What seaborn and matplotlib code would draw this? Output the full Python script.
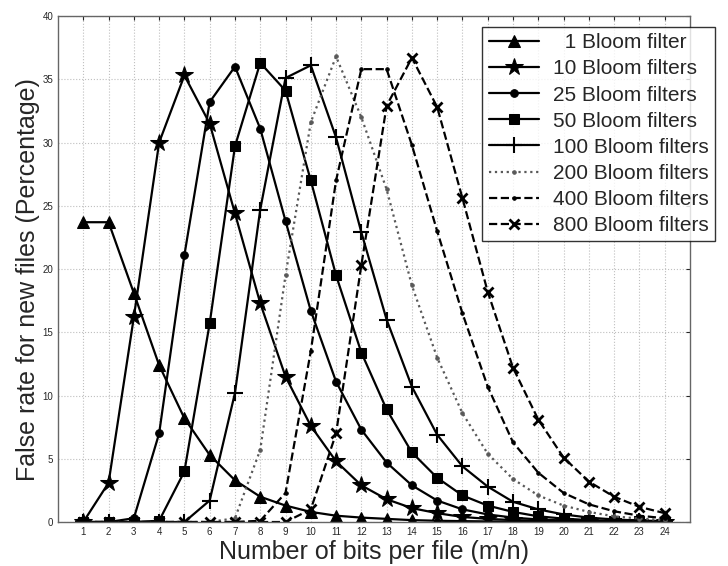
import matplotlib
matplotlib.use("Agg")
import matplotlib.pyplot as plt
import seaborn as sns

# bits per file (m/n)
bits = list(range(1, 25))

# false rate (%) for each number of Bloom filters
bf_1 = [23.7, 23.7, 18.1, 12.4, 8.2, 5.3, 3.3, 2.0, 1.3, 0.8, 0.5, 0.35,
        0.25, 0.15, 0.1, 0.07, 0.05, 0.03, 0.02, 0.01, 0.01, 0, 0, 0]
bf_10 = [0, 3.1, 16.2, 30.0, 35.3, 31.5, 24.4, 17.3, 11.5, 7.6, 4.8, 2.9,
         1.8, 1.1, 0.7, 0.4, 0.25, 0.15, 0.1, 0.05, 0.03, 0.02, 0.01, 0]
bf_25 = [0, 0, 0.3, 7.0, 21.1, 33.2, 36.0, 31.1, 23.8, 16.7, 11.1, 7.3,
         4.7, 2.9, 1.7, 1.0, 0.6, 0.35, 0.2, 0.12, 0.07, 0.04, 0.02, 0.01]
bf_50 = [0, 0, 0, 0.1, 4.0, 15.7, 29.7, 36.3, 34.1, 27.0, 19.5, 13.4,
         8.9, 5.5, 3.5, 2.1, 1.3, 0.8, 0.45, 0.27, 0.15, 0.09, 0.05, 0.03]
bf_100 = [0, 0, 0, 0, 0, 1.7, 10.2, 24.7, 35.1, 36.1, 30.4, 22.9,
          16.0, 10.7, 6.9, 4.4, 2.8, 1.6, 1.0, 0.6, 0.35, 0.2, 0.12, 0.07]
bf_200 = [0, 0, 0, 0, 0, 0, 0.3, 5.7, 19.5, 31.6, 36.8, 32.0,
          26.3, 18.7, 13.0, 8.6, 5.4, 3.4, 2.1, 1.3, 0.8, 0.45, 0.27, 0.15]
bf_400 = [0, 0, 0, 0, 0, 0, 0, 0.1, 2.3, 13.5, 27.0, 35.8,
          35.8, 29.8, 23.0, 16.5, 10.7, 6.3, 3.9, 2.3, 1.4, 0.85, 0.5, 0.3]
bf_800 = [0, 0, 0, 0, 0, 0, 0, 0, 0, 1.0, 7.0, 20.3,
          32.9, 36.7, 32.8, 25.6, 18.2, 12.2, 8.1, 5.1, 3.2, 2.0, 1.2, 0.7]

labels = ["\u20071 Bloom filter", "10 Bloom filters",
          "25 Bloom filters", "50 Bloom filters",
          "100 Bloom filters", "200 Bloom filters",
          "400 Bloom filters", "800 Bloom filters"]

sns.set_style("white")
plt.rcParams["font.family"] = ["Liberation Sans", "DejaVu Sans"]

fig = plt.figure(figsize=(7.28, 5.66), dpi=100)
ax = fig.add_axes([0.0797, 0.0777, 0.868, 0.894])

styles = [
    dict(marker="^", markersize=9, linestyle="-", color="black"),
    dict(marker="*", markersize=13, linestyle="-", color="black"),
    dict(marker="o", markersize=5.5, linestyle="-", color="black"),
    dict(marker="s", markersize=6.5, linestyle="-", color="black"),
    dict(marker="+", markersize=11, markeredgewidth=1.5, linestyle="-", color="black"),
    dict(marker=".", markersize=5, linestyle=":", color="0.35"),
    dict(marker=".", markersize=5, linestyle="--", color="black"),
    dict(marker="x", markersize=7, markeredgewidth=2, linestyle="--", color="black"),
]
series = [bf_1, bf_10, bf_25, bf_50, bf_100, bf_200, bf_400, bf_800]

for values, st in zip(series, styles):
    sns.lineplot(x=bits, y=values, ax=ax, legend=False, linewidth=1.6,
                 markeredgecolor=st["color"], markerfacecolor=st["color"], **st)

ax.set_xlim(0, 25)
ax.set_ylim(0, 40)
ax.set_xticks(bits)
ax.set_yticks(range(0, 41, 5))
ax.tick_params(direction="in", top=True, right=True, labelsize=7, length=3)
ax.grid(True, linestyle=":", color="0.75", linewidth=0.8)
for sp in ax.spines.values():
    sp.set_color("0.4")
    sp.set_linewidth(1.0)

ax.set_xlabel("Number of bits per file (m/n)", fontsize=18)
ax.set_ylabel("False rate for new files (Percentage)", fontsize=18)
ax.xaxis.set_label_coords(0.5, -0.036)
ax.yaxis.set_label_coords(-0.028, 0.48)

leg = ax.legend(handles=ax.lines[:len(labels)], labels=labels,
                loc="upper right", bbox_to_anchor=(1.04, 0.978), fontsize=15,
                frameon=True, fancybox=False, edgecolor="black",
                handlelength=2.4, labelspacing=0.34, borderpad=0.3,
                handletextpad=0.7, borderaxespad=0)
leg.get_frame().set_linewidth(1.0)

fig.savefig("out.png", dpi=100)
